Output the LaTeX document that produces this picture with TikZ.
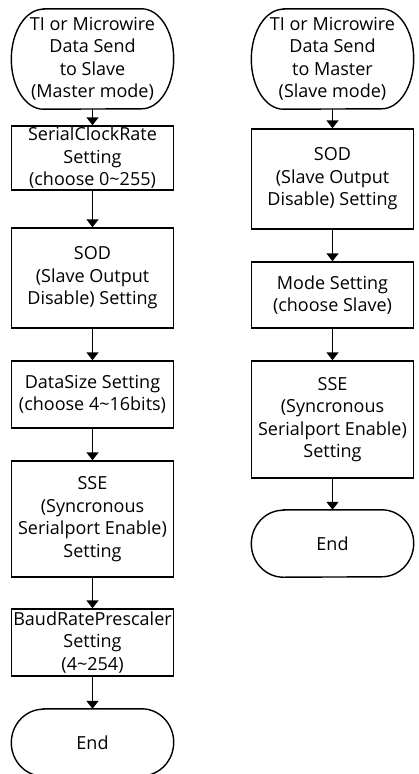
\documentclass[tikz,border=0pt]{standalone}
\usepackage{fontspec}
\setmainfont{Open Sans}
\usetikzlibrary{arrows.meta}
\newcommand\termoutline[3]{%
  \draw[outl] ([xshift=#2]#1.north west) -- ([xshift=-#2]#1.north east)
    arc[start angle=90,end angle=-90,x radius=#2,y radius=#3]
    -- ([xshift=#2]#1.south west)
    arc[start angle=270,end angle=90,x radius=#2,y radius=#3] -- cycle;}
\begin{document}
\begin{tikzpicture}[x=1pt,y=-1pt,
  font=\fontsize{18}{22.5}\selectfont,
  outl/.style={line width=1.4pt},
  proc/.style={draw, line width=1.4pt, minimum width=162pt, inner sep=0pt, align=center},
  term/.style={inner sep=0pt, minimum width=162pt, align=center},
  arr/.style={line width=1.4pt, -{Triangle[width=12pt,length=8pt]}}]
\useasboundingbox (0,0) rectangle (419,774);
% left column
\node[term, minimum height=100pt] (ls) at (92.5,59) {TI or Microwire\\Data Send\\to Slave\\(Master mode)};
\node[proc, minimum height=64pt] (l1) at (92.5,158) {SerialClockRate\\Setting\\(choose 0\textasciitilde 255)};
\node[proc, minimum height=100pt] (l2) at (92.5,278) {SOD\\(Slave Output\\Disable) Setting};
\node[proc, minimum height=67pt] (l3) at (92.5,394.5) {DataSize Setting\\(choose 4\textasciitilde 16bits)};
\node[proc, minimum height=116pt] (l4) at (92.5,519) {SSE\\(Syncronous\\Serialport Enable)\\Setting};
\node[proc, minimum height=67pt] (l5) at (92.5,642.5) {BaudRatePrescaler\\Setting\\(4\textasciitilde 254)};
\node[term, minimum height=67pt] (le) at (92.5,742.5) {End};
\termoutline{ls}{32pt}{50pt}
\termoutline{le}{32pt}{33.5pt}
\draw[arr] (ls) -- (l1);
\draw[arr] (l1) -- (l2);
\draw[arr] (l2) -- (l3);
\draw[arr] (l3) -- (l4);
\draw[arr] (l4) -- (l5);
\draw[arr] (l5) -- (le);
% right column
\node[term, minimum height=100pt] (rs) at (332.5,59) {TI or Microwire\\Data Send\\to Master\\(Slave mode)};
\node[proc, minimum height=100pt] (r1) at (332.5,179) {SOD\\(Slave Output\\Disable) Setting};
\node[proc, minimum height=66pt] (r2) at (332.5,295) {Mode Setting\\(choose Slave)};
\node[proc, minimum height=117pt] (r3) at (332.5,419.5) {SSE\\(Syncronous\\Serialport Enable)\\Setting};
\node[term, minimum height=67pt] (re) at (332.5,543.5) {End};
\termoutline{rs}{32pt}{50pt}
\termoutline{re}{32pt}{33.5pt}
\draw[arr] (rs) -- (r1);
\draw[arr] (r1) -- (r2);
\draw[arr] (r2) -- (r3);
\draw[arr] (r3) -- (re);
\end{tikzpicture}
\end{document}
